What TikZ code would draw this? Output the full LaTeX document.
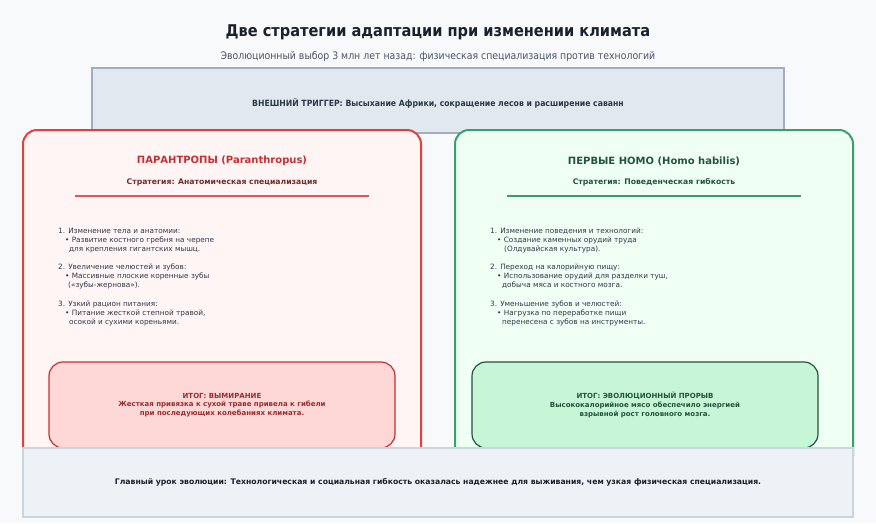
\documentclass[tikz,border=0pt]{standalone}
\usepackage{fontspec}
\setmainfont{DejaVu Sans}
\newfontfamily\condfont{DejaVu Sans Condensed}
\usetikzlibrary{positioning}
\definecolor{bgc}{HTML}{F8F9FB}
\definecolor{titlec}{HTML}{1A202C}
\definecolor{subc}{HTML}{4A5568}
\definecolor{trigfill}{HTML}{E2E8F0}
\definecolor{trigdraw}{HTML}{A0AEC0}
\definecolor{trigtext}{HTML}{2D3748}
\definecolor{lfill}{HTML}{FFF5F5}
\definecolor{ldraw}{HTML}{E53E3E}
\definecolor{ltitle}{HTML}{C53030}
\definecolor{lstrat}{HTML}{742A2A}
\definecolor{lline}{HTML}{E05555}
\definecolor{lresfill}{HTML}{FED7D7}
\definecolor{lresdraw}{HTML}{C53030}
\definecolor{lrestext}{HTML}{9B2C2C}
\definecolor{rfill}{HTML}{F0FFF4}
\definecolor{rdraw}{HTML}{38A169}
\definecolor{rtitle}{HTML}{22543D}
\definecolor{rline}{HTML}{3C9A64}
\definecolor{rresfill}{HTML}{C6F6D5}
\definecolor{rresdraw}{HTML}{22543D}
\definecolor{listc}{HTML}{2D3748}
\definecolor{botfill}{HTML}{EDF2F7}
\definecolor{botdraw}{HTML}{CBD5E0}
\tikzset{
  panel/.style={rounded corners=14pt, line width=2pt},
  resbox/.style={rounded corners=14pt, line width=1.2pt},
  plainbox/.style={line width=1.2pt},
  listtext/.style={anchor=north west, align=left, inner sep=0pt, text=listc,
     font=\fontsize{7.3}{9.1}\selectfont},
  restext/.style={align=center, inner sep=0pt, font=\bfseries\fontsize{7}{8.6}\selectfont},
}
\begin{document}
\begin{tikzpicture}[x=1pt,y=-1pt]
\useasboundingbox (0,0) rectangle (876,523);
\fill[bgc] (0,0) rectangle (876,523);
% title
\node[text=titlec, font=\condfont\bfseries\fontsize{16.2}{18}\selectfont] (title) at (438,32) {Две стратегии адаптации при изменении климата};
\node[text=subc, font=\condfont\fontsize{10.4}{12}\selectfont] (subtitle) at (438,57) {Эволюционный выбор 3 млн лет назад: физическая специализация против технологий};
% trigger
\draw[plainbox, fill=trigfill, draw=trigdraw] (92,68) rectangle (784,133);
\node[text=trigtext, font=\condfont\bfseries\fontsize{8.6}{10}\selectfont] (trigger) at (438,103) {ВНЕШНИЙ ТРИГГЕР: Высыхание Африки, сокращение лесов и расширение саванн};
% left panel
\draw[panel, fill=lfill, draw=ldraw] (23,130) rectangle (421,470);
\node[text=ltitle, font=\bfseries\fontsize{10}{12}\selectfont] (ltitlen) at (222,161) {ПАРАНТРОПЫ (Paranthropus)};
\node[text=lstrat, font=\bfseries\fontsize{7.7}{9}\selectfont] (lstratn) at (222,182) {Стратегия: Анатомическая специализация};
\draw[lline, line width=1.3pt] (75,196) -- (369,196);
\node[listtext] (llist) at (58,227.5) {1. Изменение тела и анатомии:\\
\hspace*{7pt}• Развитие костного гребня на черепе\\
\hspace*{11pt}для крепления гигантских мышц.\\[9.2pt]
2. Увеличение челюстей и зубов:\\
\hspace*{7pt}• Массивные плоские коренные зубы\\
\hspace*{10pt}(«зубы-жернова»).\\[9.2pt]
3. Узкий рацион питания:\\
\hspace*{7pt}• Питание жесткой степной травой,\\
\hspace*{11pt}осокой и сухими кореньями.};
\draw[resbox, fill=lresfill, draw=lresdraw] (49,362) rectangle (395,448);
\node[restext, text=lrestext] (lres) at (222,405) {ИТОГ: ВЫМИРАНИЕ\\Жесткая привязка к сухой траве привела к гибели\\при последующих колебаниях климата.};
% right panel
\draw[panel, fill=rfill, draw=rdraw] (455,130) rectangle (853,470);
\node[text=rtitle, font=\bfseries\fontsize{10}{12}\selectfont] (rtitlen) at (654,161) {ПЕРВЫЕ HOMO (Homo habilis)};
\node[text=rtitle, font=\bfseries\fontsize{7.7}{9}\selectfont] (rstratn) at (654,182) {Стратегия: Поведенческая гибкость};
\draw[rline, line width=1.3pt] (507,196) -- (801,196);
\node[listtext] (rlist) at (490,227.5) {1. Изменение поведения и технологий:\\
\hspace*{7pt}• Создание каменных орудий труда\\
\hspace*{14pt}(Олдувайская культура).\\[9.2pt]
2. Переход на калорийную пищу:\\
\hspace*{7pt}• Использование орудий для разделки туш,\\
\hspace*{12pt}добыча мяса и костного мозга.\\[9.2pt]
3. Уменьшение зубов и челюстей:\\
\hspace*{7pt}• Нагрузка по переработке пищи\\
\hspace*{12pt}перенесена с зубов на инструменты.};
\draw[resbox, fill=rresfill, draw=rresdraw] (472,362) rectangle (818,448);
\node[restext, text=rtitle] (rres) at (645,405) {ИТОГ: ЭВОЛЮЦИОННЫЙ ПРОРЫВ\\Высококалорийное мясо обеспечило энергией\\взрывной рост головного мозга.};
% bottom
\draw[plainbox, fill=botfill, draw=botdraw] (23,448) rectangle (853,517);
\node[text=titlec, font=\bfseries\fontsize{7.7}{9}\selectfont] (lesson) at (438,482) {Главный урок эволюции: Технологическая и социальная гибкость оказалась надежнее для выживания, чем узкая физическая специализация.};
\end{tikzpicture}
\end{document}
